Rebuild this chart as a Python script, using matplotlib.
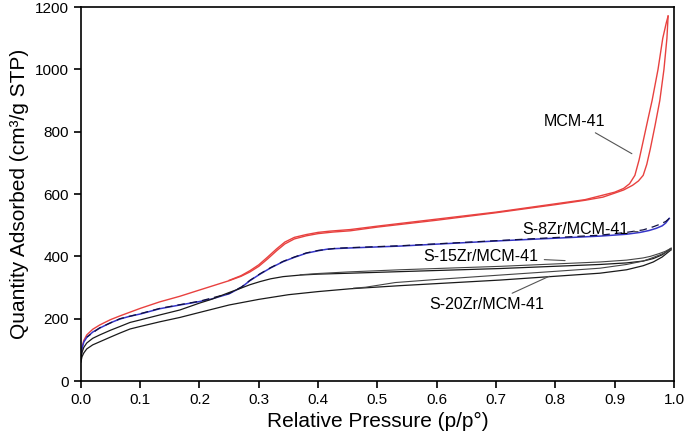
import matplotlib
matplotlib.use('Agg')
import matplotlib.pyplot as plt

plt.rcParams['font.family'] = ['Liberation Sans', 'DejaVu Sans']

# MCM-41
mcm_ads_x = [0.0, 0.002, 0.005, 0.01, 0.02, 0.032, 0.05, 0.066, 0.083, 0.1, 0.133, 0.167, 0.2, 0.225,
             0.25, 0.27, 0.285, 0.3, 0.315, 0.33, 0.344, 0.36, 0.38, 0.4, 0.425, 0.454, 0.5, 0.6, 0.7,
             0.8, 0.85, 0.88, 0.9, 0.915, 0.93, 0.94, 0.948, 0.954, 0.96, 0.968, 0.976, 0.983, 0.988, 0.99]
mcm_ads_y = [75, 108, 130, 148, 166, 180, 197, 209, 221, 233, 254, 272, 292, 307,
             322, 336, 350, 368, 392, 418, 440, 456, 466, 473, 478, 482, 494, 516, 540,
             566, 580, 590, 603, 613, 628, 642, 660, 695, 745, 820, 900, 1000, 1100, 1171]
mcm_des_x = [0.99, 0.987, 0.981, 0.973, 0.963, 0.956, 0.948, 0.941, 0.934, 0.925, 0.915, 0.9, 0.85,
             0.7, 0.5, 0.454, 0.42, 0.4, 0.38, 0.36, 0.344, 0.33, 0.315, 0.3, 0.285, 0.27, 0.25]
mcm_des_y = [1171, 1150, 1100, 1000, 900, 840, 770, 709, 660, 633, 618, 606, 582,
             542, 497, 486, 481, 477, 470, 461, 446, 424, 398, 373, 354, 338, 323]

# S-8Zr/MCM-41
s8_ads_x = [0.0, 0.002, 0.005, 0.01, 0.02, 0.032, 0.05, 0.066, 0.083, 0.1, 0.133, 0.167, 0.2, 0.22,
            0.25, 0.26, 0.271, 0.285, 0.302, 0.32, 0.341, 0.36, 0.38, 0.4, 0.415, 0.43, 0.454, 0.538,
            0.707, 0.875, 0.92, 0.943, 0.958, 0.97, 0.98, 0.986, 0.992]
s8_ads_y = [72, 105, 125, 140, 157, 170, 187, 199, 208, 215, 232, 244, 255, 263,
            280, 290, 301, 322, 343, 363, 383, 397, 410, 418, 423, 425, 427, 433,
            450, 465, 471, 477, 483, 490, 498, 507, 522]
s8_des_x = [0.992, 0.986, 0.976, 0.965, 0.948, 0.92, 0.875, 0.707, 0.538, 0.454, 0.43, 0.4, 0.38,
            0.36, 0.341, 0.32, 0.302, 0.285, 0.271, 0.25, 0.2, 0.167, 0.133, 0.1, 0.066, 0.032, 0.01]
s8_des_y = [522, 512, 503, 495, 485, 477, 468, 451, 434, 428, 426, 419, 411,
            398, 384, 364, 344, 323, 302, 281, 256, 245, 233, 216, 200, 171, 141]

# S-15Zr/MCM-41
s15_ads_x = [0.0, 0.002, 0.005, 0.01, 0.02, 0.032, 0.05, 0.066, 0.083, 0.1, 0.133, 0.167, 0.2, 0.22,
             0.25, 0.27, 0.285, 0.302, 0.32, 0.341, 0.37, 0.4, 0.454, 0.538, 0.707, 0.875, 0.92,
             0.948, 0.965, 0.98, 0.995]
s15_ads_y = [65, 92, 108, 122, 137, 148, 163, 175, 188, 196, 212, 228, 250, 262,
             284, 298, 309, 319, 328, 335, 340, 343, 346, 351, 361, 374, 379,
             385, 393, 405, 426]
s15_des_x = [0.995, 0.985, 0.975, 0.96, 0.948, 0.92, 0.875, 0.707, 0.538, 0.45, 0.4, 0.37]
s15_des_y = [426, 416, 409, 400, 395, 388, 382, 368, 357, 350, 345, 341]

# S-20Zr/MCM-41
s20_ads_x = [0.0, 0.002, 0.005, 0.01, 0.02, 0.032, 0.05, 0.066, 0.083, 0.1, 0.133, 0.167, 0.2, 0.25,
             0.3, 0.35, 0.4, 0.454, 0.538, 0.707, 0.875, 0.92, 0.948, 0.965, 0.98, 0.995]
s20_ads_y = [60, 78, 90, 103, 116, 126, 141, 154, 167, 175, 190, 204, 220, 244,
             262, 277, 287, 296, 306, 324, 346, 357, 370, 382, 398, 421]
s20_des_x = [0.995, 0.985, 0.975, 0.96, 0.948, 0.92, 0.875, 0.8, 0.707, 0.6, 0.53, 0.5, 0.48, 0.46]
s20_des_y = [421, 412, 404, 393, 385, 374, 362, 352, 340, 326, 316, 307, 301, 298]

fig = plt.figure(figsize=(6.85, 4.41), dpi=100)
ax = fig.add_axes([0.118, 0.136, 0.866, 0.848])

red = '#e8413f'
blue = '#3535c8'
dark = '#1a1a1a'

ax.plot(mcm_ads_x, mcm_ads_y, color=red, lw=1.0)
ax.plot(mcm_des_x, mcm_des_y, color=red, lw=1.0)
ax.plot(s8_ads_x, s8_ads_y, color=blue, lw=1.1)
ax.plot(s8_des_x, s8_des_y, color='#101040', lw=0.9, dashes=(6, 4))
ax.plot(s15_ads_x, s15_ads_y, color=dark, lw=0.9)
ax.plot(s15_des_x, s15_des_y, color='#444444', lw=0.8)
ax.plot(s20_ads_x, s20_ads_y, color=dark, lw=0.9)
ax.plot(s20_des_x, s20_des_y, color='#444444', lw=0.8)

# labels with leader lines
lead = dict(arrowstyle='-', color='#555555', lw=0.8)
ax.annotate('MCM-41', xy=(0.933, 725), xytext=(0.833, 834), fontsize=11.5,
            ha='center', va='center', arrowprops=lead)
ax.annotate('S-8Zr/MCM-41', xy=(0.944, 479), xytext=(0.833, 486), fontsize=11.5,
            ha='center', va='center', arrowprops=lead)
ax.annotate('S-15Zr/MCM-41', xy=(0.821, 386), xytext=(0.675, 399), fontsize=11.5,
            ha='center', va='center', arrowprops=lead)
ax.annotate('S-20Zr/MCM-41', xy=(0.794, 340), xytext=(0.685, 245), fontsize=11.5,
            ha='center', va='center', arrowprops=lead)

ax.set_xlim(0, 1.0)
ax.set_ylim(0, 1200)
ax.set_xticks([i / 10 for i in range(11)])
ax.set_xticklabels(['%.1f' % (i / 10) for i in range(11)])
ax.set_yticks(range(0, 1201, 200))
ax.tick_params(direction='out', length=5, width=1.2, labelsize=11, top=False, right=False)
for s in ax.spines.values():
    s.set_linewidth(1.2)
ax.set_xlabel('Relative Pressure (p/p°)', fontsize=15)
ax.set_ylabel('Quantity Adsorbed (cm³/g STP)', fontsize=15)

fig.savefig('out.png', dpi=100)
